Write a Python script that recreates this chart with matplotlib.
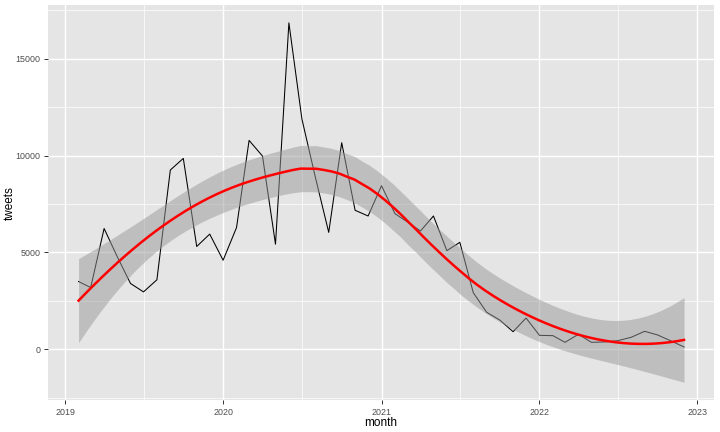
import math
import numpy as np
import pandas as pd
import matplotlib
matplotlib.use("Agg")
import matplotlib.pyplot as plt
import matplotlib.dates as mdates

plt.rcParams['font.family'] = ['Liberation Sans', 'DejaVu Sans']

months = pd.date_range("2019-02-01", "2022-12-01", freq="MS")
tweets = [
    3500, 3190, 6240, 4800, 3400, 2965, 3590, 9260, 9860, 5310, 5950,
    4600, 6290, 10790, 9980, 5430, 16860, 11900, 8900, 6040, 10670, 7180, 6885,
    8450, 7005, 6590, 6110, 6885, 5095, 5525, 2925, 1910, 1515, 910, 1615,
    720, 705, 360, 775, 360, 380, 445, 620, 930, 740, 430, 120,
]
year_ticks = ["2019", "2020", "2021", "2022", "2023"]
y_ticks = [0, 5000, 10000, 15000]

x = mdates.date2num(months.to_pydatetime())
y = np.array(tweets, dtype=float)
n = len(x)
span = 0.75


def loess_row(x0):
    d = np.abs(x - x0)
    q = int(math.floor(n * span))
    h = np.sort(d)[q - 1]
    u = np.clip(d / h, 0, 1)
    w = (1 - u ** 3) ** 3
    X = np.column_stack([np.ones(n), x - x0, (x - x0) ** 2])
    W = np.diag(w)
    A = X.T @ W @ X
    return (np.linalg.solve(A, X.T @ W))[0]


L = np.array([loess_row(xi) for xi in x])
res = y - L @ y
IL = np.eye(n) - L
M = IL.T @ IL
d1 = np.trace(M)
d2 = np.trace(M @ M)
sigma = math.sqrt(np.sum(res ** 2) / d1)
df = d1 ** 2 / d2


def t_cdf(t, v):
    xs = np.linspace(0, t, 4001)
    c = math.exp(math.lgamma((v + 1) / 2) - math.lgamma(v / 2)) / math.sqrt(v * math.pi)
    pdf = c * (1 + xs ** 2 / v) ** (-(v + 1) / 2)
    return 0.5 + np.trapezoid(pdf, xs)


lo, hi = 1.0, 4.0
for _ in range(60):
    mid = (lo + hi) / 2
    if t_cdf(mid, df) < 0.975:
        lo = mid
    else:
        hi = mid
tq = (lo + hi) / 2

xg = np.linspace(x.min(), x.max(), 80)
rows = np.array([loess_row(xi) for xi in xg])
fit = rows @ y
se = sigma * np.sqrt(np.sum(rows ** 2, axis=1))
upper = fit + tq * se
lower = fit - tq * se

fig = plt.figure(figsize=(7.2, 4.32), dpi=100)
ax = fig.add_axes([48.3 / 720, 32 / 432, (714.3 - 48.3) / 720, (400 - 5.3) / 432])
ax.set_facecolor("#E5E5E5")
for s in ax.spines.values():
    s.set_visible(False)

xt = [mdates.date2num(pd.Timestamp(f"{t}-01-01").to_pydatetime()) for t in year_ticks]
xminor = [mdates.date2num(pd.Timestamp(f"{t}-07-02").to_pydatetime()) for t in year_ticks[:-1]]
ymin, ymax = -2619, 17768
xmin = x.min() - 0.05 * (x.max() - x.min())
xmax = x.max() + 0.05 * (x.max() - x.min())

for v in [-2500, 2500, 7500, 12500, 17500]:
    ax.axhline(v, color="white", lw=0.5, zorder=0)
for v in xminor:
    ax.axvline(v, color="white", lw=0.5, zorder=0)
for v in y_ticks:
    ax.axhline(v, color="white", lw=1.0, zorder=0)
for v in xt:
    ax.axvline(v, color="white", lw=1.0, zorder=0)

ax.plot(x, y, color="black", lw=0.75, zorder=2)
ax.fill_between(xg, lower, upper, color="#999999", alpha=0.5, lw=0, zorder=3)
ax.plot(xg, fit, color="#FF0000", lw=1.8, zorder=4)

ax.set_xlim(xmin, xmax)
ax.set_ylim(ymin, ymax)
ax.set_xticks(xt)
ax.set_xticklabels(year_ticks)
ax.set_yticks(y_ticks)
ax.set_yticklabels([str(v) for v in y_ticks])
ax.tick_params(axis="both", colors="#333333", length=3, width=0.7, labelsize=6.4,
               labelcolor="#4D4D4D", pad=2.5)
ax.set_xlabel("month", fontsize=8.5, color="black", va="center")
ax.set_ylabel("tweets", fontsize=8.5, color="black", va="center")
ax.xaxis.set_label_coords((381 - 48.3) / 666, -23 / 394.7)
ax.yaxis.set_label_coords((10 - 48.3) / 666, 0.5)

fig.savefig("out.png", dpi=100)
